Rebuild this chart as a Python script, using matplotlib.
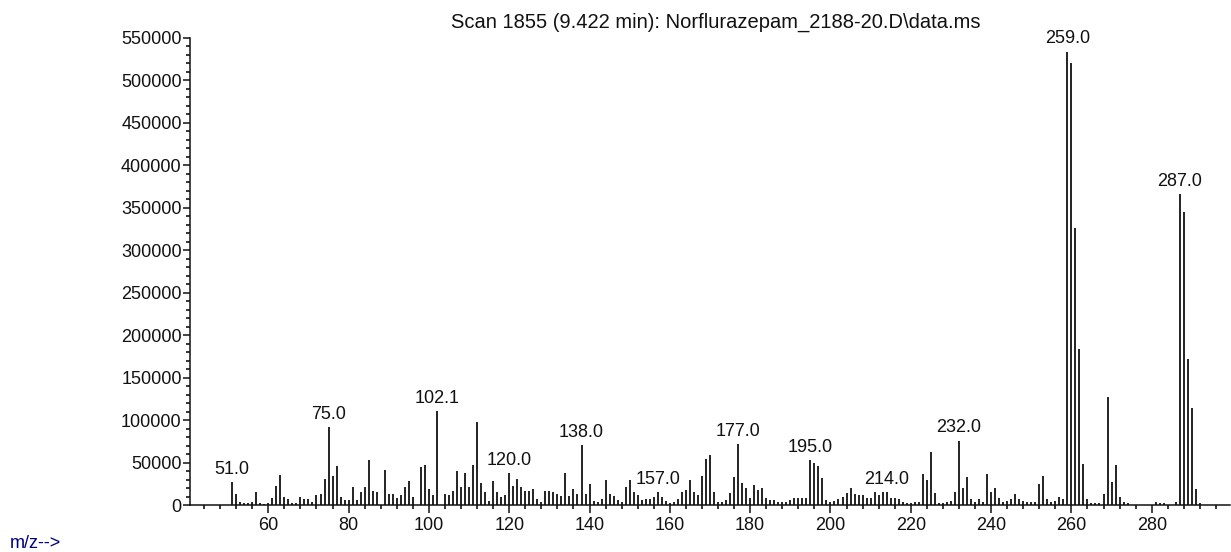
import numpy as np
import matplotlib
matplotlib.use("Agg")
import matplotlib.pyplot as plt
from matplotlib.ticker import MultipleLocator, FuncFormatter

plt.rcParams['font.family'] = ['Liberation Sans', 'DejaVu Sans']

TITLE = "Scan 1855 (9.422 min): Norflurazepam_2188-20.D\\data.ms"

# m/z 51 .. 292, one abundance value per unit mass
mz = np.arange(51, 293)
abundance = [
    26500, 13500, 3500, 2700, 2700, 4000, 15500, 2000, 1500,            # 51-59
    2000, 7800, 22500, 35500, 9500, 6500, 2700, 2000, 9500, 7500,       # 60-69
    7500, 4000, 11500, 13500, 30500, 92000, 34500, 45500, 10000, 6000,  # 70-79
    5500, 21000, 6000, 15500, 21000, 53000, 17000, 15500, 0, 41500,     # 80-89
    13500, 12500, 8500, 11800, 20800, 28000, 9400, 0, 45000, 47000,     # 90-99
    19000, 11800, 111000, 0, 13000, 12000, 16000, 40000, 21000, 38000,  # 100-109
    21000, 47000, 97500, 26000, 15000, 5000, 28000, 15000, 9400, 12000, # 110-119
    38000, 22800, 30600, 20800, 16500, 16500, 18800, 7000, 3000, 16500, # 120-129
    16500, 15000, 13000, 11000, 37700, 11000, 18800, 13000, 71000, 13000,  # 130-139
    24300, 5000, 4000, 7000, 30000, 13300, 10500, 5800, 4000, 21000,    # 140-149
    30000, 15000, 11300, 5500, 6500, 7400, 9000, 15300, 9400, 4500,     # 150-159
    2200, 4000, 7400, 15700, 17700, 29400, 15700, 11800, 34000, 54600,  # 160-169
    58500, 15700, 4000, 4000, 6000, 13700, 32600, 71800, 26300, 19600,  # 170-179
    7800, 23000, 17700, 19600, 7800, 6000, 6000, 4000, 3000, 4000,      # 180-189
    6000, 8000, 8000, 8000, 8000, 53000, 50000, 46500, 32000, 5500,     # 190-199
    3200, 5000, 6700, 10000, 13700, 19600, 12500, 11800, 11800, 7800,   # 200-209
    7800, 15700, 11800, 15700, 15700, 7800, 7800, 6700, 4000, 2700,     # 210-219
    2000, 4000, 4000, 36000, 29400, 62800, 13700, 2000, 2700, 4000,     # 220-229
    5000, 15700, 75800, 19600, 32600, 6700, 4000, 6700, 4000, 36000,    # 230-239
    15700, 19600, 7800, 4000, 5000, 6700, 13500, 6700, 5000, 3000,      # 240-249
    3000, 4000, 25000, 34000, 7000, 3000, 4300, 9000, 7000, 534000,     # 250-259
    520000, 326000, 183500, 48000, 7000, 2000, 2000, 2000, 13500, 127000,  # 260-269
    26700, 47500, 10000, 4000, 2400, 0, 0, 0, 0, 0,                     # 270-279
    0, 4000, 2000, 2000, 0, 0, 4000, 366000, 345500, 171600,            # 280-289
    114000, 19000, 2000,                                                # 290-292
]

label_mz = [51, 75, 102, 120, 138, 157, 177, 195, 214, 232, 259, 287]
label_text = ["51.0", "75.0", "102.1", "120.0", "138.0", "157.0",
              "177.0", "195.0", "214.0", "232.0", "259.0", "287.0"]

W, H = 1231, 552
fig = plt.figure(figsize=(W / 100, H / 100), dpi=100)
ax = fig.add_axes([190 / W, 47 / H, 1040 / W, 467 / H])

ab = np.array(abundance, dtype=float)
ax.vlines(mz, 0, ab, colors="#111111", linewidth=1.3)

lookup = dict(zip(mz.tolist(), abundance))
for m, t in zip(label_mz, label_text):
    ax.annotate(t, (m, lookup[m]), xytext=(0, 3), textcoords="offset points",
                ha="center", va="bottom", fontsize=13, color="#111111")

ax.set_xlim(40.5, 299.5)
ax.set_ylim(0, 550000)
ax.xaxis.set_major_locator(MultipleLocator(20))
ax.xaxis.set_minor_locator(MultipleLocator(4))
ax.yaxis.set_major_locator(MultipleLocator(50000))
ax.yaxis.set_minor_locator(MultipleLocator(10000))
ax.yaxis.set_major_formatter(FuncFormatter(lambda v, p: f"{int(v)}"))

for s in ("top", "right"):
    ax.spines[s].set_visible(False)
for s in ("left", "bottom"):
    ax.spines[s].set_linewidth(1.1)
    ax.spines[s].set_color("#111111")

ax.tick_params(axis="x", which="major", direction="out", length=6, width=1.1,
               labelsize=13, pad=3, colors="#111111")
ax.tick_params(axis="x", which="minor", direction="out", length=3, width=1.1)
ax.tick_params(axis="y", which="major", direction="out", length=5, width=1.1,
               labelsize=13, pad=1, colors="#111111")
ax.tick_params(axis="y", which="minor", direction="out", length=3, width=1.1)

fig.text(716 / W, 1 - 22 / H, TITLE, ha="center", va="center",
         fontsize=14.5, color="#111111")
fig.text(10 / W, 1 - 543 / H, "m/z-->", ha="left", va="center",
         fontsize=13, color="#000080")

fig.savefig("out.png", dpi=100)
